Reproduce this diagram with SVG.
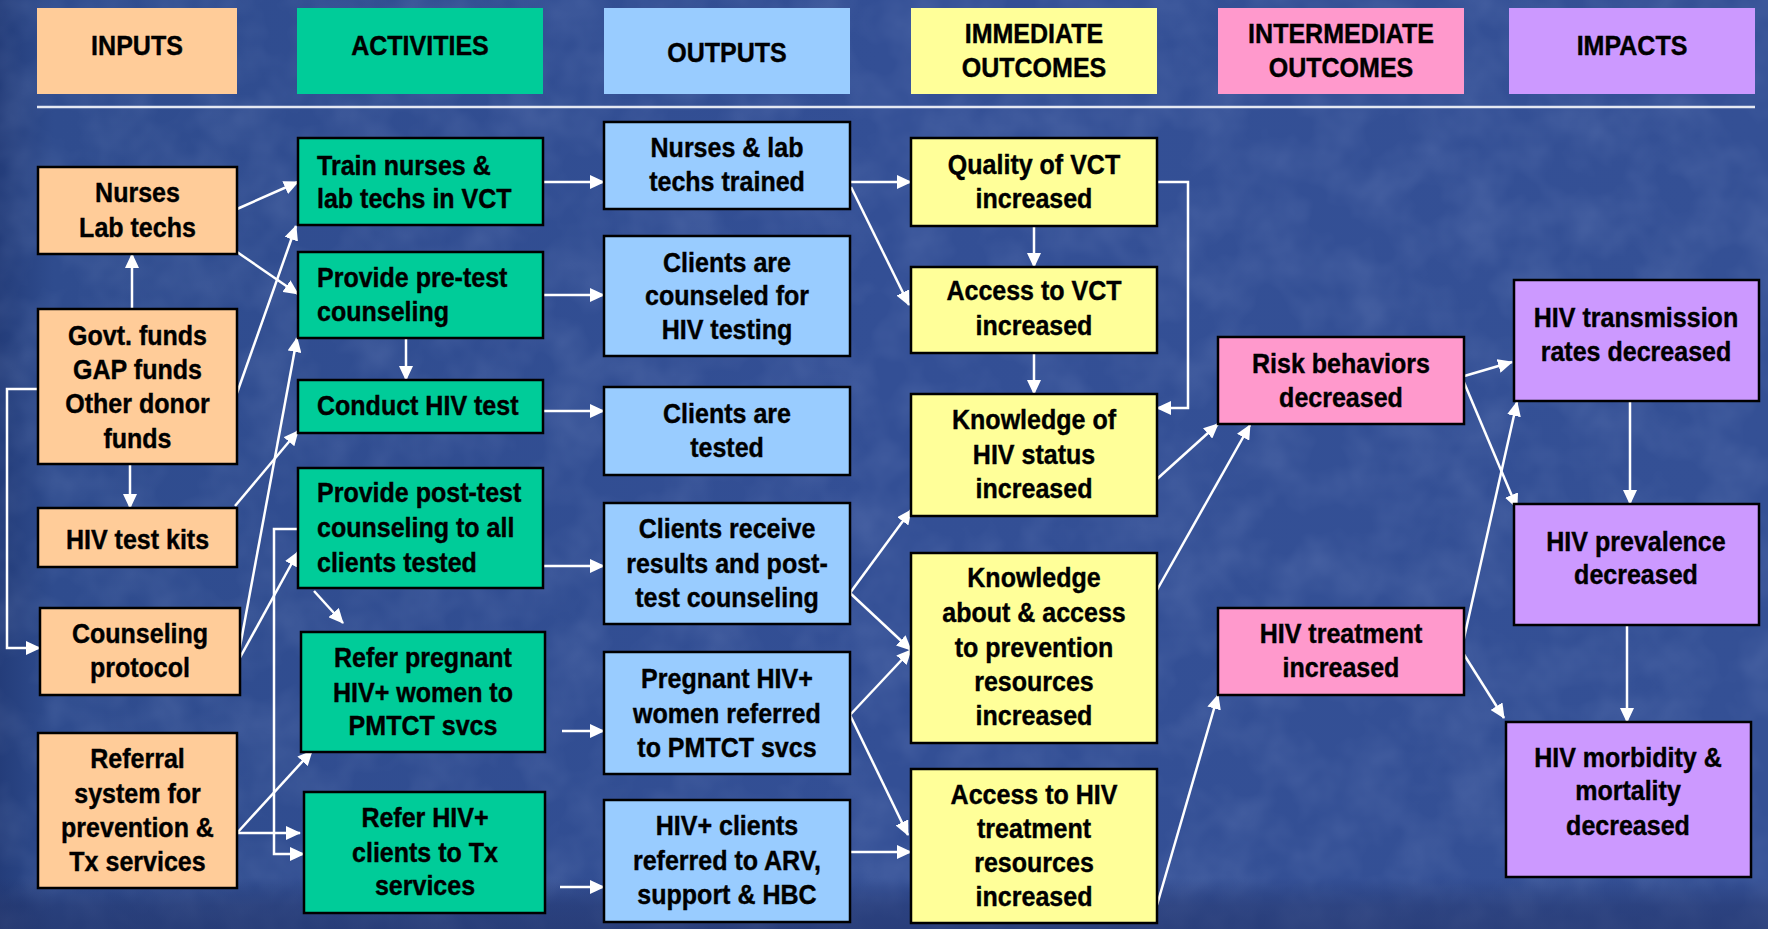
<svg xmlns="http://www.w3.org/2000/svg" width="1768" height="929" viewBox="0 0 1768 929">
  <defs>
    <linearGradient id="bgH" x1="0" y1="0" x2="1" y2="0">
      <stop offset="0" stop-color="#243d7a"/>
      <stop offset="0.03" stop-color="#2f4c8e"/>
      <stop offset="0.5" stop-color="#334f95"/>
      <stop offset="1" stop-color="#345095"/>
    </linearGradient>
    <linearGradient id="bgV" x1="0" y1="0" x2="0" y2="1">
      <stop offset="0" stop-color="#1f2d60" stop-opacity="0"/>
      <stop offset="0.945" stop-color="#1f2d60" stop-opacity="0"/>
      <stop offset="0.975" stop-color="#1f2d60" stop-opacity="0.4"/>
      <stop offset="1" stop-color="#1f2d60" stop-opacity="0.5"/>
    </linearGradient>
    <filter id="grain" x="0" y="0" width="100%" height="100%">
      <feTurbulence type="fractalNoise" baseFrequency="0.02" numOctaves="3" seed="7"/>
      <feColorMatrix values="0 0 0 0 0.55  0 0 0 0 0.65  0 0 0 0 0.95  0.22 0 0 0 -0.08"/>
    </filter>
    <marker id="arr" markerUnits="userSpaceOnUse" markerWidth="16" markerHeight="14" refX="14" refY="7" orient="auto">
      <path d="M0,0 L15,7 L0,14 Z" fill="#fff"/>
    </marker>
    <style>
      .hdr{stroke:none}
      .box{stroke:#000;stroke-width:2.5}
      .in{fill:#ffcc99}
      .act{fill:#00cc99}
      .out{fill:#99ccff}
      .imm{fill:#ffff99}
      .int{fill:#ff99cc}
      .imp{fill:#cc99ff}
      .t{font-family:"Liberation Sans",Arial,sans-serif;font-weight:bold;font-size:27.5px;fill:#000;stroke:#000;stroke-width:0.4;text-anchor:middle;transform-box:fill-box;transform-origin:center;transform:scaleX(.91)}
      .l{text-anchor:start;transform-origin:0 50%}
      #connectors path{fill:none;stroke:#fff;stroke-width:2.5;marker-end:url(#arr)}
    </style>
  </defs>

  <!-- background -->
  <rect width="1768" height="929" fill="url(#bgH)"/>
  <rect width="1768" height="929" filter="url(#grain)"/>
  <rect width="1768" height="929" fill="url(#bgV)"/>

  <!-- column headers -->
  <g id="hdr-inputs"><rect class="hdr in" x="37" y="8" width="200" height="86"/><text class="t" x="137" y="55">INPUTS</text></g>
  <g id="hdr-activities"><rect class="hdr act" x="297" y="8" width="246" height="86"/><text class="t" x="420" y="55">ACTIVITIES</text></g>
  <g id="hdr-outputs"><rect class="hdr out" x="604" y="8" width="246" height="86"/><text class="t" x="727" y="62">OUTPUTS</text></g>
  <g id="hdr-immediate"><rect class="hdr imm" x="911" y="8" width="246" height="86"/><text class="t"><tspan x="1034" y="43">IMMEDIATE</tspan><tspan x="1034" y="77">OUTCOMES</tspan></text></g>
  <g id="hdr-intermediate"><rect class="hdr int" x="1218" y="8" width="246" height="86"/><text class="t"><tspan x="1341" y="43">INTERMEDIATE</tspan><tspan x="1341" y="77">OUTCOMES</tspan></text></g>
  <g id="hdr-impacts"><rect class="hdr imp" x="1509" y="8" width="246" height="86"/><text class="t" x="1632" y="55">IMPACTS</text></g>
  <line x1="37" y1="107" x2="1755" y2="107" stroke="#e4e8f2" stroke-width="2.5"/>

  <!-- connectors -->
  <g id="connectors">
    <path d="M237,209 L298,182"/>
    <path d="M237,252 L298,294"/>
    <path d="M237,393 L296,226"/>
    <path d="M132,309 L132,254"/>
    <path d="M130,464 L130,508"/>
    <path d="M38,389 H7 V648 H40"/>
    <path d="M235,506 L298,431"/>
    <path d="M237,663 L297,338"/>
    <path d="M237,663 L298,552"/>
    <path d="M237,833 L312,751"/>
    <path d="M237,833 L300,833"/>
    <path d="M406,338 L406,380"/>
    <path d="M298,529 H274 V854 H304"/>
    <path d="M314,591 L343,623"/>
    <path d="M543,182 L604,182"/>
    <path d="M543,295 L604,295"/>
    <path d="M543,411 L604,411"/>
    <path d="M543,566 L604,566"/>
    <path d="M562,731 L604,731"/>
    <path d="M560,887 L604,887"/>
    <path d="M850,182 L911,182"/>
    <path d="M851,187 L909,305"/>
    <path d="M1034,226 L1034,267"/>
    <path d="M1157,182 H1188 V408 H1157"/>
    <path d="M1034,353 L1034,394"/>
    <path d="M850,593 L911,510"/>
    <path d="M850,593 L911,650"/>
    <path d="M850,715 L911,650"/>
    <path d="M850,715 L908,835"/>
    <path d="M848,852 L911,852"/>
    <path d="M1157,479 L1218,424"/>
    <path d="M1157,590 L1250,425"/>
    <path d="M1157,905 L1218,695"/>
    <path d="M1461,377 L1512,362"/>
    <path d="M1463,380 L1517,508"/>
    <path d="M1462,647 L1517,402"/>
    <path d="M1463,653 L1504,718"/>
    <path d="M1630,401 L1630,504"/>
    <path d="M1627,625 L1627,722"/>
  </g>

  <!-- inputs -->
  <g id="in-nurses"><rect class="box in" x="38" y="167" width="199" height="87"/><text class="t"><tspan x="137.5" y="202">Nurses</tspan><tspan x="137.5" y="237">Lab techs</tspan></text></g>
  <g id="in-funds"><rect class="box in" x="38" y="309" width="199" height="155"/><text class="t"><tspan x="137.5" y="345">Govt. funds</tspan><tspan x="137.5" y="379">GAP funds</tspan><tspan x="137.5" y="413">Other donor</tspan><tspan x="137.5" y="448">funds</tspan></text></g>
  <g id="in-kits"><rect class="box in" x="38" y="508" width="199" height="59"/><text class="t" x="137.5" y="549">HIV test kits</text></g>
  <g id="in-protocol"><rect class="box in" x="40" y="608" width="200" height="87"/><text class="t"><tspan x="140" y="643">Counseling</tspan><tspan x="140" y="677">protocol</tspan></text></g>
  <g id="in-referral"><rect class="box in" x="38" y="733" width="199" height="155"/><text class="t"><tspan x="137.5" y="768">Referral</tspan><tspan x="137.5" y="803">system for</tspan><tspan x="137.5" y="837">prevention &amp;</tspan><tspan x="137.5" y="871">Tx services</tspan></text></g>

  <!-- activities -->
  <g id="act-train"><rect class="box act" x="298" y="138" width="245" height="87"/><text class="t l"><tspan x="317" y="175">Train nurses &amp;</tspan><tspan x="317" y="208">lab techs in VCT</tspan></text></g>
  <g id="act-pretest"><rect class="box act" x="298" y="252" width="245" height="86"/><text class="t l"><tspan x="317" y="287">Provide pre-test</tspan><tspan x="317" y="321">counseling</tspan></text></g>
  <g id="act-test"><rect class="box act" x="298" y="380" width="245" height="53"/><text class="t l" x="317" y="415">Conduct HIV test</text></g>
  <g id="act-posttest"><rect class="box act" x="298" y="468" width="245" height="120"/><text class="t l"><tspan x="317" y="502">Provide post-test</tspan><tspan x="317" y="537">counseling to all</tspan><tspan x="317" y="572">clients tested</tspan></text></g>
  <g id="act-pmtct"><rect class="box act" x="301" y="632" width="244" height="120"/><text class="t"><tspan x="423" y="667">Refer pregnant</tspan><tspan x="423" y="702">HIV+ women to</tspan><tspan x="423" y="735">PMTCT svcs</tspan></text></g>
  <g id="act-tx"><rect class="box act" x="304" y="792" width="241" height="121"/><text class="t"><tspan x="425" y="827">Refer HIV+</tspan><tspan x="425" y="862">clients to Tx</tspan><tspan x="425" y="895">services</tspan></text></g>

  <!-- outputs -->
  <g id="out-trained"><rect class="box out" x="604" y="122" width="246" height="87"/><text class="t"><tspan x="727" y="157">Nurses &amp; lab</tspan><tspan x="727" y="191">techs trained</tspan></text></g>
  <g id="out-counseled"><rect class="box out" x="604" y="236" width="246" height="120"/><text class="t"><tspan x="727" y="272">Clients are</tspan><tspan x="727" y="305">counseled for</tspan><tspan x="727" y="339">HIV testing</tspan></text></g>
  <g id="out-tested"><rect class="box out" x="604" y="387" width="246" height="88"/><text class="t"><tspan x="727" y="423">Clients are</tspan><tspan x="727" y="457">tested</tspan></text></g>
  <g id="out-results"><rect class="box out" x="604" y="503" width="246" height="121"/><text class="t"><tspan x="727" y="538">Clients receive</tspan><tspan x="727" y="573">results and post-</tspan><tspan x="727" y="607">test counseling</tspan></text></g>
  <g id="out-pmtct"><rect class="box out" x="604" y="652" width="246" height="122"/><text class="t"><tspan x="727" y="688">Pregnant HIV+</tspan><tspan x="727" y="723">women referred</tspan><tspan x="727" y="757">to PMTCT svcs</tspan></text></g>
  <g id="out-arv"><rect class="box out" x="604" y="800" width="246" height="122"/><text class="t"><tspan x="727" y="835">HIV+ clients</tspan><tspan x="727" y="870">referred to ARV,</tspan><tspan x="727" y="904">support &amp; HBC</tspan></text></g>

  <!-- immediate outcomes -->
  <g id="imm-quality"><rect class="box imm" x="911" y="138" width="246" height="88"/><text class="t"><tspan x="1034" y="174">Quality of VCT</tspan><tspan x="1034" y="208">increased</tspan></text></g>
  <g id="imm-access"><rect class="box imm" x="911" y="267" width="246" height="86"/><text class="t"><tspan x="1034" y="300">Access to VCT</tspan><tspan x="1034" y="335">increased</tspan></text></g>
  <g id="imm-status"><rect class="box imm" x="911" y="394" width="246" height="122"/><text class="t"><tspan x="1034" y="429">Knowledge of</tspan><tspan x="1034" y="464">HIV status</tspan><tspan x="1034" y="498">increased</tspan></text></g>
  <g id="imm-prevention"><rect class="box imm" x="911" y="553" width="246" height="190"/><text class="t"><tspan x="1034" y="587">Knowledge</tspan><tspan x="1034" y="622">about &amp; access</tspan><tspan x="1034" y="657">to prevention</tspan><tspan x="1034" y="691">resources</tspan><tspan x="1034" y="725">increased</tspan></text></g>
  <g id="imm-treatment"><rect class="box imm" x="911" y="769" width="246" height="154"/><text class="t"><tspan x="1034" y="804">Access to HIV</tspan><tspan x="1034" y="838">treatment</tspan><tspan x="1034" y="872">resources</tspan><tspan x="1034" y="906">increased</tspan></text></g>

  <!-- intermediate outcomes -->
  <g id="int-risk"><rect class="box int" x="1218" y="337" width="246" height="87"/><text class="t"><tspan x="1341" y="373">Risk behaviors</tspan><tspan x="1341" y="407">decreased</tspan></text></g>
  <g id="int-treatment"><rect class="box int" x="1218" y="608" width="246" height="87"/><text class="t"><tspan x="1341" y="643">HIV treatment</tspan><tspan x="1341" y="677">increased</tspan></text></g>

  <!-- impacts -->
  <g id="imp-transmission"><rect class="box imp" x="1514" y="280" width="245" height="121"/><text class="t"><tspan x="1636" y="327">HIV transmission</tspan><tspan x="1636" y="361">rates decreased</tspan></text></g>
  <g id="imp-prevalence"><rect class="box imp" x="1514" y="504" width="245" height="121"/><text class="t"><tspan x="1636" y="551">HIV prevalence</tspan><tspan x="1636" y="584">decreased</tspan></text></g>
  <g id="imp-morbidity"><rect class="box imp" x="1506" y="722" width="245" height="155"/><text class="t"><tspan x="1628" y="767">HIV morbidity &amp;</tspan><tspan x="1628" y="800">mortality</tspan><tspan x="1628" y="835">decreased</tspan></text></g>
</svg>
